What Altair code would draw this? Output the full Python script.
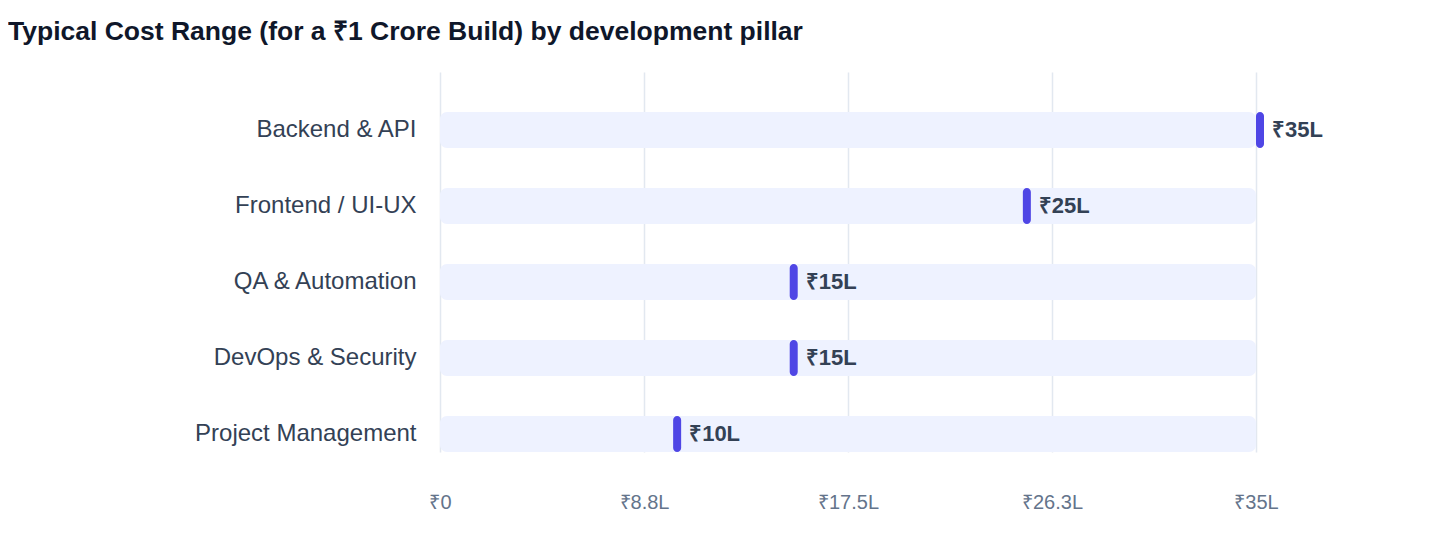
import pandas as pd
import altair as alt

pillars = ["Backend & API", "Frontend / UI-UX", "QA & Automation",
           "DevOps & Security", "Project Management"]
cost_lakh = [35, 25, 15, 15, 10]
cost_labels = ["₹35L", "₹25L", "₹15L", "₹15L", "₹10L"]
axis_max = 35
x_ticks = [0, 8.75, 17.5, 26.25, 35]

df = pd.DataFrame({
    'Pillar': pillars,
    'Cost': cost_lakh,
    'Label': cost_labels,
})
df['Zero'] = 0
df['Max'] = axis_max

FONT = 'Liberation Sans'

y_enc = alt.Y('Pillar:N', sort=pillars, title=None,
              scale=alt.Scale(range=[20, 400]),
              axis=alt.Axis(domain=False, ticks=False, tickSize=0, grid=False,
                            labelFontSize=24, labelColor='#334155', labelLimit=500,
                            labelPadding=24, labelFont=FONT))

x_scale = alt.Scale(domain=[0, axis_max], nice=False, zero=True)

track = alt.Chart(df).mark_bar(size=36, cornerRadius=7, color='#EEF2FF').encode(
    x=alt.X('Zero:Q', scale=x_scale, title=None,
            axis=alt.Axis(values=x_ticks, domain=False, ticks=False, tickSize=0,
                          grid=True, gridColor='#E2E8F0', gridWidth=1.5,
                          labelFontSize=20, labelColor='#64748B', labelPadding=20,
                          labelFont=FONT, labelFlush=False,
                          labelExpr="datum.value == 0 ? '₹0' : '₹' + format(datum.value, '.1~f') + 'L'")),
    x2='Max:Q',
    y=y_enc,
)

marker = alt.Chart(df).mark_bar(size=36, cornerRadius=4, color='#4F46E5', x2Offset=8).encode(
    x=alt.X('Cost:Q', scale=x_scale),
    x2='Cost:Q',
    y=alt.Y('Pillar:N', sort=pillars),
)

text = alt.Chart(df).mark_text(align='left', baseline='middle', dx=16,
                               fontSize=22, fontWeight='bold', color='#334155',
                               font=FONT).encode(
    x=alt.X('Cost:Q', scale=x_scale),
    y=alt.Y('Pillar:N', sort=pillars),
    text='Label:N',
)

chart = (track + marker + text).properties(
    width=816, height=400,
    autosize='none',
    padding={'left': 432, 'top': 64, 'right': 150, 'bottom': 70},
    title=alt.TitleParams(
        'Typical Cost Range (for a ₹1 Crore Build) by development pillar',
        anchor='start', frame='group', dx=-432, offset=6, baseline='alphabetic',
        fontSize=26.5, fontWeight='bold', color='#0F172A', font=FONT),
).configure_view(stroke=None)

chart.save("out.html", embed_options={"renderer": "svg", "actions": False})
